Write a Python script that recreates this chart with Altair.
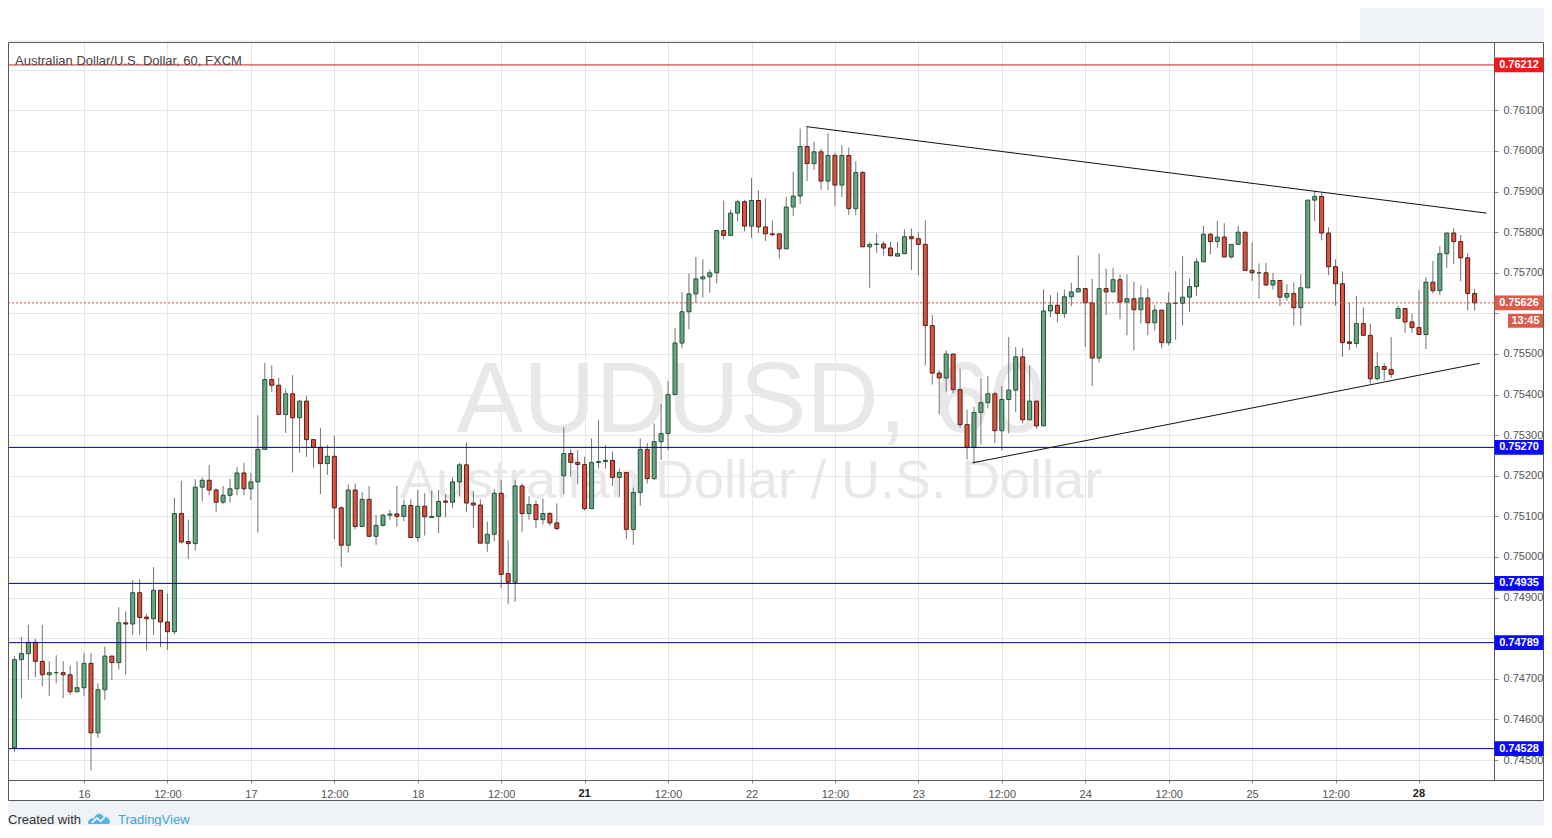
import json
import altair as alt
import pandas as pd

# ---------------- data ----------------
OPEN = [0.74530, 0.74747, 0.74762, 0.74790, 0.74743, 0.74710, 0.74715, 0.74715, 0.74710, 0.74668,
        0.74678, 0.74738, 0.74567, 0.74673, 0.74756, 0.74740, 0.74838, 0.74835, 0.74912, 0.74852,
        0.74848, 0.74918, 0.74840, 0.74816, 0.75107, 0.75038, 0.75033, 0.75172, 0.75189, 0.75165,
        0.75135, 0.75152, 0.75168, 0.75207, 0.75168, 0.75185, 0.75265, 0.75437, 0.75423, 0.75351,
        0.75402, 0.75343, 0.75384, 0.75289, 0.75270, 0.75230, 0.75248, 0.75121, 0.75029, 0.75165,
        0.75075, 0.75142, 0.75051, 0.75078, 0.75103, 0.75106, 0.75100, 0.75127, 0.75048, 0.75125,
        0.75097, 0.75100, 0.75138, 0.75135, 0.75185, 0.75227, 0.75133, 0.75128, 0.75034, 0.75056,
        0.75157, 0.74959, 0.74938, 0.75175, 0.75107, 0.75129, 0.75092, 0.75107, 0.75084, 0.75200,
        0.75255, 0.75233, 0.75228, 0.75119, 0.75233, 0.75235, 0.75238, 0.75196, 0.75208, 0.75068,
        0.75159, 0.75265, 0.75193, 0.75284, 0.75304, 0.75400, 0.75527, 0.75604, 0.75648, 0.75685,
        0.75690, 0.75700, 0.75804, 0.75792, 0.75847, 0.75875, 0.75815, 0.75878, 0.75813, 0.75796,
        0.75796, 0.75759, 0.75862, 0.75889, 0.76011, 0.75969, 0.75998, 0.75926, 0.75989, 0.75916,
        0.75989, 0.75858, 0.75947, 0.75764, 0.75770, 0.75771, 0.75761, 0.75741, 0.75747, 0.75789,
        0.75784, 0.75770, 0.75570, 0.75453, 0.75441, 0.75500, 0.75412, 0.75326, 0.75270, 0.75356,
        0.75380, 0.75402, 0.75311, 0.75388, 0.75411, 0.75493, 0.75338, 0.75384, 0.75323, 0.75606,
        0.75620, 0.75600, 0.75641, 0.75653, 0.75661, 0.75626, 0.75490, 0.75661, 0.75653, 0.75683,
        0.75628, 0.75636, 0.75609, 0.75638, 0.75577, 0.75608, 0.75528, 0.75625, 0.75625, 0.75640,
        0.75666, 0.75727, 0.75795, 0.75777, 0.75788, 0.75739, 0.75770, 0.75800, 0.75706, 0.75700,
        0.75700, 0.75670, 0.75681, 0.75640, 0.75649, 0.75614, 0.75663, 0.75879, 0.75888, 0.75798,
        0.75715, 0.75673, 0.75530, 0.75526, 0.75575, 0.75546, 0.75439, 0.75469, 0.75462, 0.75588,
        0.75612, 0.75579, 0.75565, 0.75548, 0.75677, 0.75656, 0.75747, 0.75798, 0.75777, 0.75737,
        0.75649]
HIGH = [0.74756, 0.74803, 0.74833, 0.74798, 0.74833, 0.74743, 0.74758, 0.74743, 0.74733, 0.74743,
        0.74763, 0.74763, 0.74689, 0.74779, 0.74756, 0.74876, 0.74866, 0.74943, 0.74945, 0.74860,
        0.74975, 0.74918, 0.74910, 0.75146, 0.75188, 0.75092, 0.75192, 0.75196, 0.75227, 0.75169,
        0.75175, 0.75192, 0.75222, 0.75232, 0.75207, 0.75349, 0.75478, 0.75472, 0.75442, 0.75415,
        0.75448, 0.75386, 0.75396, 0.75289, 0.75318, 0.75276, 0.75298, 0.75125, 0.75179, 0.75181,
        0.75160, 0.75175, 0.75104, 0.75106, 0.75116, 0.75175, 0.75142, 0.75142, 0.75165, 0.75157,
        0.75163, 0.75165, 0.75155, 0.75196, 0.75232, 0.75282, 0.75163, 0.75142, 0.75087, 0.75167,
        0.75190, 0.75041, 0.75189, 0.75181, 0.75150, 0.75140, 0.75144, 0.75111, 0.75132, 0.75319,
        0.75265, 0.75263, 0.75247, 0.75292, 0.75337, 0.75275, 0.75260, 0.75218, 0.75208, 0.75171,
        0.75292, 0.75281, 0.75329, 0.75377, 0.75433, 0.75564, 0.75652, 0.75698, 0.75739, 0.75733,
        0.75708, 0.75806, 0.75878, 0.75856, 0.75880, 0.75880, 0.75933, 0.75903, 0.75883, 0.75829,
        0.75796, 0.75887, 0.75949, 0.76055, 0.76060, 0.76023, 0.76006, 0.76044, 0.75996, 0.76014,
        0.76009, 0.75975, 0.75951, 0.75775, 0.75797, 0.75778, 0.75776, 0.75776, 0.75807, 0.75809,
        0.75800, 0.75829, 0.75596, 0.75460, 0.75509, 0.75500, 0.75464, 0.75363, 0.75370, 0.75441,
        0.75446, 0.75407, 0.75421, 0.75542, 0.75517, 0.75515, 0.75472, 0.75384, 0.75659, 0.75645,
        0.75651, 0.75659, 0.75675, 0.75743, 0.75663, 0.75685, 0.75747, 0.75710, 0.75712, 0.75696,
        0.75696, 0.75678, 0.75669, 0.75661, 0.75620, 0.75608, 0.75652, 0.75704, 0.75741, 0.75686,
        0.75736, 0.75816, 0.75798, 0.75828, 0.75822, 0.75770, 0.75816, 0.75800, 0.75775, 0.75723,
        0.75724, 0.75700, 0.75681, 0.75672, 0.75676, 0.75696, 0.75880, 0.75902, 0.75898, 0.75812,
        0.75733, 0.75703, 0.75626, 0.75643, 0.75615, 0.75575, 0.75504, 0.75477, 0.75542, 0.75619,
        0.75612, 0.75600, 0.75658, 0.75689, 0.75729, 0.75766, 0.75798, 0.75810, 0.75793, 0.75748,
        0.75660]
LOW = [0.74520, 0.74652, 0.74698, 0.74704, 0.74682, 0.74657, 0.74689, 0.74652, 0.74660, 0.74668,
       0.74657, 0.74474, 0.74554, 0.74648, 0.74697, 0.74723, 0.74710, 0.74808, 0.74808, 0.74770,
       0.74808, 0.74778, 0.74771, 0.74810, 0.75033, 0.74995, 0.75016, 0.75137, 0.75152, 0.75110,
       0.75130, 0.75134, 0.75152, 0.75152, 0.75140, 0.75060, 0.75265, 0.75407, 0.75351, 0.75306,
       0.75208, 0.75257, 0.75247, 0.75220, 0.75155, 0.75202, 0.75044, 0.74976, 0.75011, 0.75068,
       0.75075, 0.75051, 0.75030, 0.75075, 0.75091, 0.75075, 0.75088, 0.75048, 0.75038, 0.75053,
       0.75097, 0.75059, 0.75098, 0.75121, 0.75150, 0.75110, 0.75072, 0.75034, 0.75013, 0.75039,
       0.74924, 0.74884, 0.74890, 0.75061, 0.75092, 0.75071, 0.75080, 0.75077, 0.75067, 0.75155,
       0.75198, 0.75179, 0.75115, 0.75119, 0.75218, 0.75218, 0.75175, 0.75148, 0.75045, 0.75030,
       0.75126, 0.75181, 0.75189, 0.75239, 0.75263, 0.75400, 0.75514, 0.75561, 0.75625, 0.75639,
       0.75651, 0.75674, 0.75782, 0.75792, 0.75826, 0.75802, 0.75786, 0.75798, 0.75778, 0.75790,
       0.75735, 0.75759, 0.75840, 0.75870, 0.75926, 0.75953, 0.75904, 0.75904, 0.75865, 0.75887,
       0.75842, 0.75842, 0.75764, 0.75663, 0.75749, 0.75742, 0.75741, 0.75741, 0.75747, 0.75707,
       0.75694, 0.75472, 0.75425, 0.75351, 0.75407, 0.75403, 0.75319, 0.75240, 0.75230, 0.75278,
       0.75366, 0.75280, 0.75263, 0.75304, 0.75357, 0.75329, 0.75338, 0.75316, 0.75323, 0.75591,
       0.75578, 0.75588, 0.75618, 0.75653, 0.75517, 0.75421, 0.75479, 0.75596, 0.75653, 0.75586,
       0.75546, 0.75509, 0.75575, 0.75546, 0.75558, 0.75514, 0.75521, 0.75535, 0.75570, 0.75604,
       0.75643, 0.75727, 0.75746, 0.75762, 0.75739, 0.75735, 0.75770, 0.75706, 0.75680, 0.75636,
       0.75667, 0.75659, 0.75618, 0.75631, 0.75570, 0.75570, 0.75663, 0.75827, 0.75780, 0.75694,
       0.75619, 0.75493, 0.75510, 0.75516, 0.75546, 0.75427, 0.75435, 0.75435, 0.75441, 0.75588,
       0.75552, 0.75552, 0.75548, 0.75512, 0.75649, 0.75645, 0.75712, 0.75721, 0.75679, 0.75608,
       0.75607]
CLOSE = [0.74747, 0.74762, 0.74790, 0.74743, 0.74710, 0.74715, 0.74715, 0.74710, 0.74668, 0.74678,
         0.74738, 0.74567, 0.74673, 0.74756, 0.74740, 0.74838, 0.74835, 0.74912, 0.74851, 0.74848,
         0.74918, 0.74840, 0.74816, 0.75107, 0.75037, 0.75033, 0.75172, 0.75189, 0.75165, 0.75135,
         0.75152, 0.75168, 0.75207, 0.75168, 0.75185, 0.75265, 0.75437, 0.75423, 0.75351, 0.75402,
         0.75343, 0.75384, 0.75289, 0.75270, 0.75230, 0.75248, 0.75121, 0.75029, 0.75165, 0.75075,
         0.75142, 0.75051, 0.75078, 0.75103, 0.75106, 0.75100, 0.75127, 0.75048, 0.75125, 0.75099,
         0.75100, 0.75137, 0.75135, 0.75185, 0.75227, 0.75133, 0.75128, 0.75034, 0.75056, 0.75157,
         0.74957, 0.74938, 0.75175, 0.75107, 0.75129, 0.75092, 0.75107, 0.75084, 0.75070, 0.75255,
         0.75233, 0.75228, 0.75119, 0.75233, 0.75235, 0.75238, 0.75196, 0.75208, 0.75068, 0.75159,
         0.75265, 0.75193, 0.75284, 0.75304, 0.75400, 0.75527, 0.75604, 0.75648, 0.75685, 0.75690,
         0.75700, 0.75804, 0.75792, 0.75847, 0.75875, 0.75815, 0.75878, 0.75813, 0.75796, 0.75794,
         0.75759, 0.75862, 0.75889, 0.76011, 0.75969, 0.75998, 0.75926, 0.75989, 0.75916, 0.75989,
         0.75858, 0.75947, 0.75764, 0.75770, 0.75771, 0.75761, 0.75742, 0.75747, 0.75789, 0.75784,
         0.75770, 0.75570, 0.75453, 0.75441, 0.75500, 0.75412, 0.75326, 0.75270, 0.75356, 0.75380,
         0.75402, 0.75311, 0.75388, 0.75411, 0.75493, 0.75338, 0.75384, 0.75323, 0.75606, 0.75620,
         0.75600, 0.75641, 0.75653, 0.75661, 0.75626, 0.75490, 0.75661, 0.75653, 0.75683, 0.75628,
         0.75636, 0.75609, 0.75638, 0.75577, 0.75608, 0.75528, 0.75625, 0.75625, 0.75640, 0.75666,
         0.75727, 0.75795, 0.75777, 0.75788, 0.75739, 0.75770, 0.75800, 0.75706, 0.75700, 0.75700,
         0.75670, 0.75681, 0.75640, 0.75649, 0.75614, 0.75663, 0.75879, 0.75888, 0.75798, 0.75715,
         0.75673, 0.75528, 0.75526, 0.75575, 0.75546, 0.75439, 0.75469, 0.75462, 0.75450, 0.75612,
         0.75579, 0.75565, 0.75548, 0.75677, 0.75656, 0.75747, 0.75798, 0.75777, 0.75737, 0.75649,
         0.75626]

TICK_POS = [10, 22, 34, 46, 58, 70, 82, 94, 106, 118, 130, 142, 154, 166, 178, 190, 202]
TICK_LABELS = ["16", "12:00", "17", "12:00", "18", "12:00", "21", "12:00", "22", "12:00",
               "23", "12:00", "24", "12:00", "25", "12:00", "28"]
BOLD_LABELS = ["21", "28"]
PRICE_TICKS = [0.745, 0.746, 0.747, 0.748, 0.749, 0.750, 0.751, 0.752, 0.753,
               0.754, 0.755, 0.756, 0.757, 0.758, 0.759, 0.760, 0.761, 0.762]
# price labels that the reference hides behind the coloured price boxes
COVERED_PRICE_TICKS = [0.748, 0.756, 0.762]

LEVEL_PRICES = [0.76212, 0.75270, 0.74935, 0.74789, 0.74528]
LEVEL_TEXT = ["0.76212", "0.75270", "0.74935", "0.74789", "0.74528"]
LEVEL_KIND = ["red", "blue", "blue", "blue", "blue"]

LAST_PRICE = [0.75626]
LAST_TEXT = ["0.75626"]
COUNTDOWN = ["13:45"]

TREND_NAME = ["upper", "upper", "lower", "lower"]
TREND_I = [113.9, 211.7, 137.8, 210.7]
TREND_P = [0.76060, 0.75847, 0.75232, 0.75477]

TITLE = "Australian Dollar/U.S. Dollar, 60, FXCM"
WATERMARK_1 = "AUDUSD, 60"
WATERMARK_2 = "Australian Dollar / U.S. Dollar"
CREDIT_1 = "Created with"
CREDIT_2 = "TradingView"

# ---------------- frames ----------------
candles = pd.DataFrame({"i": list(range(len(OPEN))), "open": OPEN, "high": HIGH,
                        "low": LOW, "close": CLOSE})
candles["dir"] = ["up" if c >= o else "down" for o, c in zip(OPEN, CLOSE)]
levels = pd.DataFrame({"price": LEVEL_PRICES, "label": LEVEL_TEXT, "kind": LEVEL_KIND})
last = pd.DataFrame({"price": LAST_PRICE, "label": LAST_TEXT, "cd": COUNTDOWN})
trends = pd.DataFrame({"line": TREND_NAME, "i": TREND_I, "price": TREND_P})
bold_ticks = pd.DataFrame({"i": [p for p, l in zip(TICK_POS, TICK_LABELS) if l in BOLD_LABELS],
                           "label": [l for l in TICK_LABELS if l in BOLD_LABELS]})
one = pd.DataFrame({"k": [0]})

# ---------------- layout ----------------
W, H = 1485, 738
STEP = 7.0
X0 = -0.5 / STEP
xs = alt.Scale(domain=[X0, X0 + W / STEP], nice=False, zero=False)
ys = alt.Scale(domain=[0.7445074, 0.7626847], nice=False, zero=False)

FONT = "Liberation Sans"
GRID = "#e6e6e6"
BG = "#eff2f6"
FRAME = "#5a5a5a"

shown = [("" if l in BOLD_LABELS else l) for l in TICK_LABELS]
label_expr = f"{json.dumps(shown)}[indexof({json.dumps(TICK_POS)}, datum.value)]"
covered = " || ".join(f"abs(datum.value - {v}) < 1e-7" for v in COVERED_PRICE_TICKS)
y_label_expr = f"({covered}) ? '' : datum.label"

x_axis = alt.Axis(values=TICK_POS, labelExpr=label_expr, title=None, grid=True,
                  gridColor=GRID, domain=False, tickSize=3, tickColor="#8c8c8c",
                  labelFontSize=11, labelFont=FONT, labelPadding=5, labelColor="#555555")
y_axis = alt.Axis(orient="right", values=PRICE_TICKS, format=".5f", labelExpr=y_label_expr,
                  title=None, grid=True, gridColor=GRID, domain=False, tickSize=4,
                  tickColor="#8c8c8c", labelFontSize=11, labelFont=FONT, labelColor="#555555",
                  labelPadding=5)


def rect(x, x2, y, y2, color):
    return alt.Chart(one).mark_rect(color=color).encode(
        x=alt.value(x), x2=alt.value(x2), y=alt.value(y), y2=alt.value(y2))


def hline(y, x, x2, color=FRAME):
    return alt.Chart(one).mark_rule(color=color, strokeWidth=1).encode(
        y=alt.value(y), x=alt.value(x), x2=alt.value(x2))


def vline(x, y, y2, color=FRAME):
    return alt.Chart(one).mark_rule(color=color, strokeWidth=1).encode(
        x=alt.value(x), y=alt.value(y), y2=alt.value(y2))


def text(s, x, y, size, color, align="left", baseline="middle", weight="normal"):
    return alt.Chart(one).mark_text(text=s, fontSize=size, color=color, font=FONT,
                                    align=align, baseline=baseline, fontWeight=weight).encode(
        x=alt.value(x), y=alt.value(y))


wicks = alt.Chart(candles).mark_rule(color="#737375", strokeWidth=1).encode(
    x=alt.X("i:Q", scale=xs, axis=x_axis),
    y=alt.Y("low:Q", scale=ys, axis=y_axis),
    y2="high:Q",
)
bodies = alt.Chart(candles).mark_bar(size=4, strokeWidth=1).encode(
    x=alt.X("i:Q", scale=xs, axis=None),
    y=alt.Y("open:Q", scale=ys, axis=None),
    y2="close:Q",
    fill=alt.Fill("dir:N", scale=alt.Scale(domain=["up", "down"], range=["#6ba583", "#d75442"]),
                  legend=None),
    stroke=alt.Stroke("dir:N", scale=alt.Scale(domain=["up", "down"], range=["#225437", "#5b1a13"]),
                      legend=None),
)

bg_layers = [
    rect(1351, 1600, -40, 0, BG),
    rect(-10, 1600, -2, 0, BG),
    rect(1535, 1600, -2, 760, BG),
    rect(-10, 1600, 759, 900, BG),
]

watermark = [
    text(WATERMARK_1, 742, 390, 100, "#e8e8e8", align="center", baseline="alphabetic"),
    text(WATERMARK_2, 742, 456, 54, "#e8e8e8", align="center", baseline="alphabetic"),
]

bold_tick_text = alt.Chart(bold_ticks).mark_text(fontSize=11, font=FONT, fontWeight="bold",
                                                 color="#222222", align="center",
                                                 baseline="top", dy=8).encode(
    x=alt.X("i:Q", scale=xs, axis=None), y=alt.value(H), text="label:N")

level_red = alt.Chart(levels).transform_filter("datum.kind == 'red'").mark_rule(
    color="#cc2222", strokeWidth=1).encode(y=alt.Y("price:Q", scale=ys, axis=None))
level_blue = alt.Chart(levels).transform_filter("datum.kind == 'blue'").mark_rule(
    color="#00008b", strokeWidth=1).encode(y=alt.Y("price:Q", scale=ys, axis=None))
last_line = alt.Chart(last).mark_rule(color="#d75442", strokeWidth=1, strokeDash=[2, 2]).encode(
    y=alt.Y("price:Q", scale=ys, axis=None))

trend_lines = alt.Chart(trends).mark_line(color="#111111", strokeWidth=1).encode(
    x=alt.X("i:Q", scale=xs, axis=None),
    y=alt.Y("price:Q", scale=ys, axis=None),
    detail="line:N",
)

title = text(TITLE, 6, 18.5, 13, "#444444")

frame = [
    alt.Chart(one).mark_rect(fillOpacity=0, stroke=FRAME, strokeWidth=1).encode(
        x=alt.value(-0.5), x2=alt.value(1534.5), y=alt.value(0.5), y2=alt.value(758.5)),
    vline(1485.5, 0.5, 738.5),
    hline(738.5, -0.5, 1534.5),
]

BOX_W = 49
box_path = "M-1,-0.3L1,-0.3L1,0.3L-1,0.3Z"


def level_box(kind, color):
    return alt.Chart(levels).transform_filter(f"datum.kind == '{kind}'").mark_point(
        shape=box_path, size=BOX_W * BOX_W, filled=True, opacity=1, strokeWidth=0,
        color=color).encode(x=alt.value(W + 25), y=alt.Y("price:Q", scale=ys, axis=None))


level_text = alt.Chart(levels).mark_text(color="white", fontSize=11, font=FONT, fontWeight="bold",
                                         align="center", baseline="middle").encode(
    x=alt.value(W + 25), y=alt.Y("price:Q", scale=ys, axis=None), text="label:N")

last_box = alt.Chart(last).mark_point(shape=box_path, size=BOX_W * BOX_W, filled=True, opacity=1,
                                      strokeWidth=0, color="#db5c4b").encode(
    x=alt.value(W + 25), y=alt.Y("price:Q", scale=ys, axis=None))
last_text = alt.Chart(last).mark_text(color="white", fontSize=11, font=FONT, fontWeight="bold",
                                      align="center", baseline="middle").encode(
    x=alt.value(W + 25), y=alt.Y("price:Q", scale=ys, axis=None), text="label:N")
cd_box = alt.Chart(last).mark_point(shape="M-1,-0.4L1,-0.4L1,0.4L-1,0.4Z", size=35 * 35,
                                    filled=True, opacity=1, strokeWidth=0, color="#db5c4b",
                                    yOffset=18).encode(
    x=alt.value(W + 31.5), y=alt.Y("price:Q", scale=ys, axis=None))
cd_text = alt.Chart(last).mark_text(color="white", fontSize=11, font=FONT, fontWeight="bold",
                                    align="center", baseline="middle", dy=18).encode(
    x=alt.value(W + 31.5), y=alt.Y("price:Q", scale=ys, axis=None), text="cd:N")

cloud = ("M-1,0.45C-1,0.05,-0.72,-0.12,-0.45,-0.05C-0.35,-0.55,0.25,-0.62,0.42,-0.18"
         "C0.72,-0.28,1,-0.02,1,0.28C1,0.42,0.92,0.45,0.82,0.45Z")
zig = "M-0.65,0.35L-0.2,-0.1L0.15,0.2L0.6,-0.25"
credit = [
    text(CREDIT_1, -1, 778, 13, "#333333"),
    alt.Chart(one).mark_point(shape=cloud, size=22 * 22, filled=True, opacity=1, strokeWidth=0,
                              color="#5ab4e5").encode(x=alt.value(90), y=alt.value(777)),
    alt.Chart(one).mark_point(shape=zig, size=22 * 22, filled=False, opacity=1, strokeWidth=1.5,
                              color="white").encode(x=alt.value(90), y=alt.value(777)),
    text(CREDIT_2, 109, 778, 13, "#3fa5db"),
]

layers = (bg_layers + watermark + [wicks, bodies, bold_tick_text, level_red, level_blue,
          last_line, trend_lines, title] + frame
          + [level_box("red", "#f01818"), level_box("blue", "#0a0aff"), level_text,
             last_box, last_text, cd_box, cd_text] + credit)

chart = alt.layer(*layers).properties(
    width=W, height=H,
    padding={"left": 1, "top": 34, "right": 50, "bottom": 46},
    autosize=alt.AutoSizeParams(type="none"),
    background="#ffffff",
).resolve_axis(x="independent", y="independent").configure_view(strokeWidth=0)

chart.save("out.html", embed_options={"renderer": "svg", "actions": False})
